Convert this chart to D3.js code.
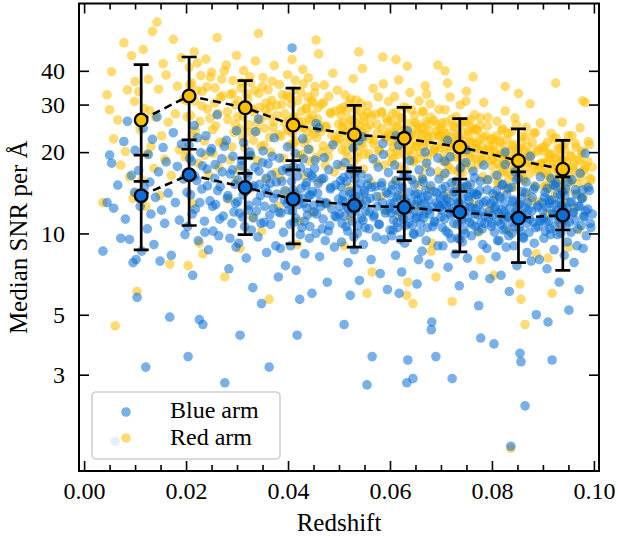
<!DOCTYPE html>
<html><head><meta charset="utf-8">
<script src="https://cdn.jsdelivr.net/npm/d3@7"></script>
<style>
body{margin:0;background:#fff}
svg{display:block}
text{font-family:"Liberation Serif","Times New Roman",serif;fill:#000}
</style>
</head><body>
<svg id="c" width="618" height="539"></svg>
<script>
// ---------------- data ----------------
const redshift = [
 0.0037,0.0045,0.0050,0.0054,0.0058,0.0061,0.0066,0.0072,0.0078,0.0081,0.0085,0.0089,0.0093,0.0096,0.0099,0.0100,
 0.0102,0.0104,0.0107,0.0110,0.0113,0.0116,0.0118,0.0121,0.0124,0.0126,0.0129,0.0131,0.0134,0.0137,0.0140,0.0143,0.0146,0.0149,0.0152,0.0155,0.0158,0.0161,0.0165,0.0168,0.0171,0.0175,0.0179,0.0183,0.0187,0.0191,0.0195,0.0198,
 0.0201,0.0203,0.0204,0.0206,0.0209,0.0211,0.0213,0.0216,0.0218,0.0221,0.0224,0.0226,0.0229,0.0231,0.0233,0.0236,0.0239,0.0241,0.0244,0.0247,0.0250,0.0253,0.0256,0.0258,0.0261,0.0264,0.0267,0.0270,0.0273,0.0276,0.0279,0.0281,0.0284,0.0287,0.0290,0.0292,0.0294,0.0296,0.0298,0.0299,
 0.0301,0.0303,0.0306,0.0308,0.0311,0.0313,0.0316,0.0318,0.0321,0.0323,0.0326,0.0328,0.0331,0.0333,0.0336,0.0338,0.0341,0.0343,0.0346,0.0348,0.0351,0.0353,0.0356,0.0358,0.0361,0.0363,0.0366,0.0368,0.0371,0.0373,0.0376,0.0378,0.0381,0.0383,0.0386,0.0388,0.0391,0.0393,0.0395,0.0397,0.0398,0.0399,0.0385,0.0365,
 0.0401,0.0403,0.0405,0.0408,0.0410,0.0412,0.0414,0.0416,0.0418,0.0420,0.0423,0.0425,0.0427,0.0429,0.0431,0.0433,0.0436,0.0438,0.0440,0.0442,0.0444,0.0447,0.0449,0.0451,0.0453,0.0455,0.0458,0.0460,0.0462,0.0464,0.0466,0.0469,0.0471,0.0473,0.0475,0.0477,0.0480,0.0482,0.0484,0.0486,0.0488,0.0491,0.0493,0.0495,0.0497,0.0499,0.0446,0.0479,
 0.0501,0.0503,0.0505,0.0507,0.0510,0.0512,0.0514,0.0516,0.0518,0.0520,0.0522,0.0524,0.0526,0.0528,0.0530,0.0532,0.0534,0.0536,0.0538,0.0540,0.0542,0.0544,0.0546,0.0548,0.0550,0.0552,0.0555,0.0557,0.0559,0.0561,0.0563,0.0565,0.0567,0.0569,0.0571,0.0573,0.0575,0.0577,0.0579,0.0581,0.0583,0.0585,0.0587,0.0589,0.0591,0.0593,0.0595,0.0597,0.0599,0.0600,
 0.0601,0.0603,0.0605,0.0607,0.0609,0.0611,0.0613,0.0615,0.0617,0.0619,0.0621,0.0623,0.0625,0.0627,0.0629,0.0631,0.0633,0.0635,0.0637,0.0639,0.0641,0.0643,0.0645,0.0647,0.0649,0.0651,0.0653,0.0655,0.0657,0.0659,0.0661,0.0663,0.0665,0.0667,0.0669,0.0671,0.0673,0.0675,0.0677,0.0679,0.0681,0.0682,0.0684,0.0686,0.0688,0.0690,0.0692,0.0694,0.0696,0.0698,0.0634,0.0656,0.0672,0.0618,0.0644,
 0.0700,0.0702,0.0704,0.0706,0.0708,0.0710,0.0712,0.0714,0.0716,0.0718,0.0720,0.0722,0.0724,0.0726,0.0728,0.0730,0.0732,0.0734,0.0736,0.0738,0.0740,0.0742,0.0744,0.0746,0.0748,0.0750,0.0752,0.0754,0.0756,0.0758,0.0760,0.0762,0.0764,0.0766,0.0768,0.0770,0.0772,0.0774,0.0776,0.0778,0.0780,0.0782,0.0784,0.0786,0.0788,0.0790,0.0792,0.0794,0.0796,0.0798,0.0713,0.0737,0.0759,0.0781,0.0749,
 0.0800,0.0802,0.0804,0.0806,0.0808,0.0810,0.0812,0.0814,0.0816,0.0818,0.0820,0.0822,0.0824,0.0826,0.0828,0.0830,0.0832,0.0834,0.0837,0.0839,0.0841,0.0843,0.0845,0.0847,0.0849,0.0851,0.0853,0.0855,0.0857,0.0859,0.0861,0.0863,0.0865,0.0867,0.0869,0.0871,0.0873,0.0875,0.0877,0.0879,0.0881,0.0883,0.0885,0.0887,0.0889,0.0891,0.0893,0.0895,0.0897,0.0899,
 0.0900,0.0902,0.0904,0.0906,0.0908,0.0910,0.0912,0.0914,0.0916,0.0918,0.0920,0.0922,0.0924,0.0926,0.0928,0.0930,0.0932,0.0934,0.0936,0.0938,0.0940,0.0942,0.0944,0.0946,0.0948,0.0951,0.0953,0.0955,0.0957,0.0959,0.0961,0.0963,0.0965,0.0967,0.0969,0.0971,0.0973,0.0975,0.0977,0.0979,0.0981,0.0983,0.0985,0.0988,0.0991,0.0994,0.0997,
 0.0539,0.0586,0.0694,0.0763,0.0852,0.0925,0.0978,0.0455,0.0342,0.0612,0.0708,0.0826,
 0.0202,0.0207,0.0212,0.0217,0.0222,0.0227,0.0232,0.0237,0.0242,0.0248,0.0252,0.0257,0.0262,0.0266,0.0271,0.0275,0.0282,0.0286,0.0291,0.0297,
 0.0302,0.0305,0.0309,0.0312,0.0315,0.0319,0.0322,0.0325,0.0329,0.0332,0.0335,0.0339,0.0344,0.0347,0.0350,0.0354,0.0357,0.0360,0.0364,0.0369,0.0372,0.0377,0.0382,0.0389,0.0394,
 0.0402,0.0404,0.0407,0.0409,0.0411,0.0413,0.0415,0.0419,0.0421,0.0424,0.0426,0.0428,0.0430,0.0432,0.0435,0.0437,0.0439,0.0441,0.0443,0.0448,0.0450,0.0452,0.0456,0.0459,0.0463,0.0467,0.0470,0.0474,0.0483,0.0492,
 0.0502,0.0504,0.0506,0.0508,0.0509,0.0511,0.0513,0.0515,0.0517,0.0519,0.0521,0.0523,0.0525,0.0527,0.0529,0.0531,0.0533,0.0535,0.0537,0.0541,0.0543,0.0545,0.0547,0.0549,0.0551,0.0554,0.0556,0.0560,0.0564,0.0568,0.0574,0.0578,0.0584,0.0590,0.0596,
 0.0602,0.0604,0.0606,0.0608,0.0610,0.0612,0.0614,0.0616,0.0620,0.0622,0.0624,0.0626,0.0628,0.0630,0.0632,0.0636,0.0638,0.0640,0.0642,0.0646,0.0648,0.0650,0.0652,0.0654,0.0658,0.0660,0.0662,0.0664,0.0666,0.0668,0.0670,0.0674,0.0676,0.0678,0.0680,0.0683,0.0687,0.0691,0.0695,0.0699,
 0.0701,0.0703,0.0705,0.0707,0.0709,0.0711,0.0715,0.0717,0.0719,0.0721,0.0723,0.0725,0.0727,0.0729,0.0731,0.0733,0.0735,0.0739,0.0741,0.0743,0.0745,0.0747,0.0751,0.0753,0.0755,0.0757,0.0761,0.0765,0.0767,0.0769,0.0771,0.0773,0.0775,0.0777,0.0779,0.0783,0.0787,0.0791,0.0795,0.0799,
 0.0801,0.0803,0.0805,0.0807,0.0809,0.0811,0.0813,0.0815,0.0817,0.0819,0.0821,0.0823,0.0825,0.0827,0.0829,0.0831,0.0833,0.0835,0.0838,0.0840,0.0842,0.0844,0.0846,0.0848,0.0850,0.0854,0.0856,0.0858,0.0860,0.0862,0.0864,0.0866,0.0868,0.0870,0.0874,0.0878,0.0882,0.0886,0.0890,0.0894,
 0.0901,0.0903,0.0905,0.0907,0.0909,0.0911,0.0913,0.0915,0.0917,0.0919,0.0921,0.0923,0.0927,0.0929,0.0931,0.0933,0.0935,0.0937,0.0939,0.0941,0.0943,0.0945,0.0947,0.0950,0.0952,0.0956,0.0960,0.0964,0.0968,0.0972,0.0976,0.0980,0.0984,0.0989,0.0993
];
const snrBlue = [
 8.6,13.0,19.5,18.2,12.4,1.7,15.1,9.6,21.9,11.3,26.0,9.5,16.4,7.8,14.2,20.3,
 8.0,5.8,17.1,12.6,8.6,24.5,14.8,3.2,10.4,19.6,15.5,11.8,22.3,9.1,13.6,27.0,16.9,7.9,12.2,20.8,10.9,18.4,14.1,4.9,8.3,23.6,13.0,17.7,11.2,21.4,15.9,9.9,
 16.8,10.6,3.5,21.2,13.9,18.5,7.0,25.1,12.3,15.7,9.4,4.8,19.9,14.6,4.6,11.1,23.0,17.3,8.7,13.2,20.6,10.2,16.0,12.8,27.5,9.8,14.9,18.9,11.6,2.8,22.1,13.5,7.4,16.6,10.9,19.3,12.0,15.2,8.9,24.0,
 13.1,9.2,4.2,17.8,11.5,21.7,14.3,8.1,16.2,12.7,19.4,10.3,6.3,15.0,23.8,12.1,9.7,17.0,13.8,5.5,20.2,11.0,14.7,8.5,18.1,3.2,10.8,16.5,12.4,22.6,9.0,14.0,6.9,19.0,11.9,15.6,10.1,13.3,7.6,17.4,12.9,20.9,8.8,15.3,
 12.2,16.9,9.0,48.6,14.5,11.0,19.8,7.3,4.2,13.6,5.7,17.5,10.5,22.4,12.9,8.4,15.4,11.7,20.5,9.6,13.9,6.0,16.1,12.0,18.7,10.0,14.1,24.6,8.2,12.6,15.9,11.3,19.1,9.4,13.0,6.6,17.2,10.7,14.8,12.3,21.3,8.9,15.1,11.5,18.0,13.4,16.4,10.2,
 11.8,15.7,9.3,13.2,4.6,18.3,10.6,12.5,7.8,16.6,5.9,14.0,11.1,20.7,8.7,13.7,17.0,10.0,12.8,6.7,15.3,11.4,22.8,9.1,14.4,12.1,2.75,16.0,10.4,13.5,8.0,3.5,18.9,11.7,14.9,9.7,12.6,17.6,10.8,7.1,15.0,13.0,19.6,9.5,11.9,14.2,6.2,16.8,12.4,10.3,
 12.9,9.8,15.1,11.2,17.9,8.3,13.6,10.5,21.2,12.0,14.7,7.2,11.6,16.3,9.2,13.1,2.8,3.4,10.9,18.6,12.3,15.8,2.9,9.9,14.0,11.4,6.5,13.3,17.2,10.1,12.7,8.6,15.5,11.8,20.0,9.4,13.8,12.2,7.7,16.9,4.4,4.7,10.6,14.3,11.0,3.5,13.0,9.0,15.9,12.5,24.0,8.0,18.2,6.0,10.7,
 11.5,14.6,9.0,12.8,16.7,10.2,13.4,7.5,11.9,19.2,9.6,2.9,14.2,12.1,8.4,15.6,10.8,13.0,6.4,17.5,11.3,9.3,14.9,12.6,10.0,20.4,8.1,13.7,11.0,15.2,9.8,12.4,7.0,16.1,10.6,13.9,11.7,5.4,14.4,4.1,12.0,9.1,17.9,10.9,13.2,8.8,15.8,11.4,6.8,12.9,22.1,9.5,14.1,10.4,18.3,
 10.9,14.0,3.9,12.3,8.2,16.4,11.1,9.4,13.5,7.0,15.1,10.3,12.0,18.0,8.9,11.6,14.7,6.1,1.63,10.0,13.1,9.0,16.9,11.8,7.6,12.7,10.5,3.6,3.35,14.3,9.7,11.4,2.3,15.5,8.5,12.2,10.1,19.3,7.9,13.6,11.0,9.2,14.9,5.0,12.5,10.6,8.0,16.2,11.3,13.0,
 12.1,9.6,14.2,11.0,7.4,4.7,13.3,10.4,16.0,3.4,11.9,8.7,12.8,15.4,9.9,11.3,6.6,13.9,10.8,17.5,12.4,8.3,14.6,11.6,9.3,5.2,13.0,10.1,15.8,12.0,7.8,11.2,14.0,9.0,12.6,6.2,16.7,10.7,13.5,8.8,11.5,19.8,9.8,12.3,14.4,10.5,11.8,
 22.0,21.5,19.0,17.0,16.0,15.0,14.5,25.5,26.5,23.0,18.5,20.0,
 14.2,19.0,11.8,16.3,22.6,13.0,17.8,10.1,15.0,20.1,12.6,18.0,14.4,11.3,16.9,21.0,13.8,9.6,17.2,12.9,
 15.8,11.9,18.6,13.9,10.6,16.7,12.2,20.0,14.8,11.4,17.6,13.1,15.2,10.9,18.3,12.6,16.0,14.1,11.7,19.3,13.5,15.5,12.0,17.1,14.4,
 13.3,10.8,15.6,12.1,17.7,14.0,11.4,16.3,12.8,9.9,14.7,13.5,18.9,11.1,15.0,12.4,16.8,13.8,10.6,14.3,12.7,17.4,11.8,15.3,13.1,10.4,16.0,12.9,14.6,11.6,
 12.6,14.9,10.9,13.9,16.1,11.6,13.0,15.6,10.2,12.3,14.3,17.3,11.9,13.4,9.7,15.9,12.1,14.6,10.7,13.6,16.6,12.8,11.2,14.1,10.5,13.2,15.1,12.0,14.8,11.5,13.7,10.8,15.4,12.2,14.0,
 11.9,14.5,10.3,13.0,12.2,15.7,11.0,13.8,9.5,12.6,14.9,11.3,13.4,10.7,16.4,12.4,14.2,11.7,13.1,10.0,15.2,12.8,11.5,14.0,12.0,10.9,13.6,15.9,11.4,12.9,14.4,10.5,13.3,11.8,15.0,12.5,11.1,14.1,12.7,13.5,
 12.2,10.5,13.8,11.3,14.9,12.7,10.0,13.1,11.7,15.4,12.4,10.9,14.3,11.9,13.4,9.6,12.9,14.7,11.1,13.6,10.3,12.0,15.0,11.5,13.2,12.5,10.8,14.1,11.8,12.3,13.9,10.2,12.8,15.6,11.0,13.0,11.6,14.5,12.1,10.6,
 11.7,13.2,10.1,12.6,14.4,9.4,11.9,13.7,10.8,12.2,15.2,11.2,12.9,10.4,13.9,11.5,9.8,12.4,14.8,11.0,13.3,10.6,12.0,15.8,11.4,12.8,10.2,13.5,11.8,9.6,12.5,14.2,10.9,13.0,11.3,12.1,14.6,10.5,12.7,11.1,
 11.4,13.6,10.2,12.5,14.7,11.1,12.9,9.9,13.3,11.8,15.1,10.6,12.2,14.0,11.5,13.0,10.0,12.7,14.3,11.2,13.8,10.8,12.4,15.5,11.0,13.1,11.9,14.5,10.4,12.6,13.5,11.6,12.1,14.8,10.9
];
const snrRed = [
 13.0,32.6,28.7,39.7,22.4,4.55,26.3,17.9,50.8,20.1,34.0,16.2,45.5,13.5,30.8,36.5,
 14.1,6.1,33.5,24.2,15.8,48.0,29.0,12.6,19.7,37.2,28.5,21.0,56.0,17.4,26.9,60.6,34.2,13.8,23.0,42.5,18.8,38.6,25.8,7.7,16.4,52.3,27.7,35.1,20.4,44.8,31.4,19.2,
 31.0,20.3,7.6,41.2,27.3,36.1,12.9,47.0,24.1,33.8,18.2,9.2,38.4,29.6,8.4,22.0,44.2,34.9,16.5,26.7,39.5,19.8,30.4,25.0,53.1,17.6,31.9,37.3,21.7,6.9,42.0,28.2,13.4,32.7,20.9,36.8,23.6,29.9,15.7,45.6,
 27.0,17.2,8.8,34.5,22.6,40.1,29.2,14.7,31.5,25.3,36.2,19.4,11.5,28.1,43.5,23.9,18.6,33.0,26.4,10.2,37.8,21.2,28.8,15.9,34.0,5.7,20.0,31.1,24.6,41.8,16.8,27.4,12.6,35.6,22.9,30.0,19.0,25.7,14.2,32.4,24.3,38.7,16.0,29.4,
 24.0,31.8,17.5,44.0,26.9,21.5,36.9,14.1,9.1,25.9,11.1,33.3,19.6,40.5,24.7,16.3,29.1,22.4,37.7,18.5,26.1,12.0,30.6,23.3,35.0,19.1,26.5,46.2,15.6,23.8,30.1,21.1,35.4,17.9,25.0,12.8,32.2,20.6,27.8,23.1,39.2,16.9,28.4,21.9,33.9,25.4,30.9,19.3,
 22.5,28.9,17.8,24.9,9.0,32.6,20.1,23.7,14.8,30.4,11.4,26.0,21.0,37.4,16.6,25.6,31.2,19.1,24.0,13.1,28.4,21.6,40.8,17.3,27.0,22.8,6.0,29.7,19.7,25.2,15.4,7.2,34.4,22.1,27.6,18.3,23.5,32.0,20.4,13.7,28.0,24.4,35.8,17.9,22.7,26.6,12.2,30.8,23.2,19.8,
 23.9,18.4,27.7,20.9,32.1,15.6,24.8,19.6,37.0,22.2,26.8,13.7,21.5,29.4,17.3,24.0,5.9,6.6,20.2,33.2,22.9,28.6,5.5,18.6,25.7,21.1,12.5,24.5,30.9,18.9,23.3,16.2,28.1,21.8,35.2,17.6,25.3,22.6,14.6,30.2,8.6,9.2,19.9,26.2,20.5,6.9,23.8,16.9,28.8,23.0,41.6,15.1,32.8,11.6,19.8,
 20.8,25.6,16.4,22.5,28.7,18.3,23.4,13.9,21.1,32.0,17.2,5.6,24.9,21.4,15.3,27.0,19.1,22.9,12.0,29.9,20.0,16.8,25.9,22.0,18.0,33.6,14.9,23.9,19.6,26.4,17.5,21.7,12.9,27.5,18.9,24.2,20.6,10.1,25.0,8.0,21.0,16.2,30.5,19.3,23.0,15.8,26.9,20.2,12.4,22.3,36.0,16.9,24.6,18.5,30.9,
 17.8,22.4,7.0,19.8,13.8,26.0,18.1,15.5,21.6,11.6,24.1,16.9,19.5,28.4,14.6,18.8,23.4,10.2,1.6,16.4,21.0,14.8,26.8,19.0,12.5,20.3,17.1,6.5,5.7,22.9,15.9,18.4,4.6,24.7,14.0,19.6,16.6,30.2,13.2,21.8,17.9,15.0,23.6,8.4,20.1,17.3,13.1,25.6,18.2,20.8,
 18.2,14.9,21.0,16.8,11.8,8.1,19.7,15.9,23.5,6.0,17.9,13.6,19.1,22.6,15.2,17.0,10.9,20.6,16.3,25.8,18.6,13.0,21.7,17.4,14.4,8.9,19.4,15.5,23.0,18.0,12.4,16.9,20.8,13.9,18.8,10.3,24.6,16.1,20.2,13.6,17.2,30.5,15.0,18.5,21.3,15.8,17.6,
 47.0,45.0,42.0,38.0,33.0,36.0,31.0,52.0,55.0,44.0,40.0,35.0,
 27.0,35.5,23.0,30.9,42.8,26.0,33.6,19.5,28.9,37.9,24.2,34.6,27.8,21.8,32.3,40.0,26.4,18.7,33.0,25.3,
 31.0,24.4,36.2,27.1,20.8,32.9,23.7,38.0,29.0,22.1,33.8,25.6,29.3,21.0,35.0,24.5,30.4,27.3,22.7,36.6,25.9,29.8,23.2,32.6,27.7,
 26.0,21.3,30.1,23.5,33.9,27.0,22.0,31.0,24.6,19.4,28.3,25.9,35.8,21.6,28.9,23.9,32.0,26.6,20.5,27.5,24.3,33.1,22.6,29.2,25.1,20.0,30.5,24.7,28.0,22.2,
 23.5,27.4,20.4,25.7,29.4,21.6,24.2,28.5,19.2,22.9,26.5,31.4,22.2,24.8,18.4,29.0,22.6,27.0,20.0,25.1,30.3,23.8,20.9,26.0,19.6,24.5,27.9,22.4,27.2,21.4,25.4,20.2,28.2,22.7,25.9,
 21.9,26.0,18.9,23.5,22.3,28.0,20.2,24.9,17.6,22.9,26.7,20.8,24.1,19.5,29.1,22.6,25.5,21.4,23.6,18.4,27.3,23.1,21.0,25.2,21.9,19.9,24.5,28.4,20.9,23.4,25.9,19.2,24.0,21.5,26.9,22.8,20.3,25.4,23.0,24.3,
 21.4,18.6,24.0,19.8,25.8,22.1,17.7,22.8,20.4,26.5,21.6,19.2,24.8,20.8,23.2,17.0,22.4,25.3,19.5,23.6,18.2,21.0,25.9,20.1,22.9,21.8,19.0,24.4,20.6,21.5,24.0,18.0,22.3,26.8,19.3,22.6,20.3,25.0,21.1,18.7,
 18.9,21.2,16.5,20.1,23.0,15.4,19.2,22.0,17.5,19.7,24.4,18.1,20.8,16.9,22.3,18.6,15.9,20.0,23.8,17.8,21.4,17.2,19.4,25.3,18.4,20.6,16.6,21.7,19.0,15.7,20.2,22.8,17.6,21.0,18.3,19.5,23.5,17.0,20.5,18.0,
 16.8,20.1,15.0,18.4,21.8,16.3,19.0,14.6,19.6,17.4,22.4,15.6,18.0,20.7,16.9,19.2,14.7,18.7,21.2,16.5,20.4,15.9,18.3,23.0,16.2,19.3,17.5,21.5,15.3,18.6,19.9,17.1,17.8,21.9,16.0
];

// binned medians and error bar ends
const binZ    = [0.0112,0.0206,0.0316,0.0410,0.0530,0.0628,0.0737,0.0852,0.0939];
const blueMed = [13.8,16.5,14.8,13.4,12.7,12.5,12.0,11.4,11.7];
const blueLo  = [8.7,10.7,9.9,9.15,8.9,9.4,8.55,7.8,7.3];
const blueHi  = [19.5,22.2,19.0,18.6,17.5,16.9,15.9,16.9,16.2];
const redMed  = [26.3,32.3,29.2,25.2,23.2,22.5,20.9,18.6,17.3];
const redLo   = [15.6,20.5,16.7,17.2,17.0,15.9,14.3,11.6,10.3];
const redHi   = [42.2,45.0,36.8,34.5,29.8,29.3,26.6,24.4,22.1];

const xTicks = [0.00,0.02,0.04,0.06,0.08,0.10];
const xTickLabels = ["0.00","0.02","0.04","0.06","0.08","0.10"];
const xMinorTicks = [0.005,0.01,0.015,0.025,0.03,0.035,0.045,0.05,0.055,0.065,0.07,0.075,0.085,0.09,0.095];
const yTicks = [3,5,10,20,30,40];
const yTickLabels = ["3","5","10","20","30","40"];
const seriesNames = ["Blue arm","Red arm"];
const xLabel = "Redshift";
const yLabel = "Median SNR per Å";

// ---------------- drawing ----------------
const BLUE = "#0b6fd6", YELLOW = "#ffc000", ALPHA = 0.55;
const L = 79, R = 599, T = 3.5, B = 471;
const svg = d3.select("#c");
const x = d3.scaleLinear().domain([-0.001, 0.101]).range([L, R]);
const y = d3.scaleLog().domain([1.32, 71]).range([B, T]);

svg.append("defs").append("clipPath").attr("id","clip")
  .append("rect").attr("x",L).attr("y",T).attr("width",R-L).attr("height",B-T);

const plot = svg.append("g").attr("clip-path","url(#clip)");
const n = Math.min(redshift.length, snrBlue.length, snrRed.length);
const idx = d3.range(n);

plot.append("g").selectAll("circle").data(idx).join("circle")
  .attr("cx", i => x(redshift[i])).attr("cy", i => y(snrRed[i])).attr("r", 4.8)
  .attr("fill", YELLOW).attr("fill-opacity", ALPHA);
plot.append("g").selectAll("circle").data(idx).join("circle")
  .attr("cx", i => x(redshift[i])).attr("cy", i => y(snrBlue[i])).attr("r", 4.8)
  .attr("fill", BLUE).attr("fill-opacity", ALPHA);

const bins = d3.range(binZ.length);
const line = d3.line();
function dashed(med){
  plot.append("path").attr("d", line(bins.map(i => [x(binZ[i]), y(med[i])])))
    .attr("fill","none").attr("stroke","#000").attr("stroke-width",2.5).attr("stroke-dasharray","8,5");
}
function errbars(lo, hi){
  const g = plot.append("g").attr("stroke","#000").attr("stroke-width",2.7);
  bins.forEach(i => {
    const cx = x(binZ[i]);
    g.append("line").attr("x1",cx).attr("x2",cx).attr("y1",y(lo[i])).attr("y2",y(hi[i]));
    g.append("line").attr("x1",cx-7.5).attr("x2",cx+7.5).attr("y1",y(lo[i])).attr("y2",y(lo[i]));
    g.append("line").attr("x1",cx-7.5).attr("x2",cx+7.5).attr("y1",y(hi[i])).attr("y2",y(hi[i]));
  });
}
function markers(med, col){
  plot.append("g").selectAll("circle").data(bins).join("circle")
    .attr("cx", i => x(binZ[i])).attr("cy", i => y(med[i])).attr("r", 6.3)
    .attr("fill", col).attr("stroke","#000").attr("stroke-width",2.3);
}
dashed(blueMed); dashed(redMed);
errbars(blueLo, blueHi); errbars(redLo, redHi);
markers(blueMed, BLUE); markers(redMed, YELLOW);

// axes
function style(g){
  g.select(".domain").remove();
  g.selectAll(".tick line").attr("stroke","#000").attr("stroke-width",1.6);
  g.selectAll("text").attr("font-family",'"Liberation Serif","Times New Roman",serif').attr("font-size",24).attr("fill","#000");
  g.attr("font-family",null).attr("font-size",null);
}
svg.append("g").attr("transform",`translate(0,${B})`)
  .call(d3.axisBottom(x).tickValues(xTicks).tickSize(-10).tickPadding(11).tickFormat((d,i)=>xTickLabels[i])).call(style);
svg.append("g").attr("transform",`translate(0,${B})`)
  .call(d3.axisBottom(x).tickValues(xMinorTicks).tickSize(-6).tickFormat("")).call(style);
svg.append("g").attr("transform",`translate(0,${T})`)
  .call(d3.axisTop(x).tickValues(xTicks).tickSize(-10).tickFormat("")).call(style);
svg.append("g").attr("transform",`translate(0,${T})`)
  .call(d3.axisTop(x).tickValues(xMinorTicks).tickSize(-6).tickFormat("")).call(style);
svg.append("g").attr("transform",`translate(${L},0)`)
  .call(d3.axisLeft(y).tickValues(yTicks).tickSize(-10).tickPadding(14).tickFormat((d,i)=>yTickLabels[i])).call(style);
svg.append("g").attr("transform",`translate(${R},0)`)
  .call(d3.axisRight(y).tickValues(yTicks).tickSize(-10).tickFormat("")).call(style);

// spines
svg.append("rect").attr("x",L).attr("y",T).attr("width",R-L).attr("height",B-T)
  .attr("fill","none").attr("stroke","#000").attr("stroke-width",2);

// labels
svg.append("text").attr("x",(L+R)/2).attr("y",531).attr("text-anchor","middle").attr("font-size",25).text(xLabel);
svg.append("text").attr("transform",`translate(27,${(T+B)/2}) rotate(-90)`).attr("text-anchor","middle").attr("font-size",25).text(yLabel);

// legend
const lg = svg.append("g");
lg.append("rect").attr("x",92).attr("y",392).attr("width",188).attr("height",67).attr("rx",4)
  .attr("fill","#fff").attr("fill-opacity",0.8).attr("stroke","#d0d0d0").attr("stroke-width",1.6);
[BLUE, YELLOW].forEach((c,i) => {
  lg.append("circle").attr("cx",126).attr("cy",412+i*26).attr("r",4.8).attr("fill",c).attr("fill-opacity",ALPHA);
  lg.append("text").attr("x",170).attr("y",418+i*27).attr("font-size",24).text(seriesNames[i]);
});
</script>
</body></html>
